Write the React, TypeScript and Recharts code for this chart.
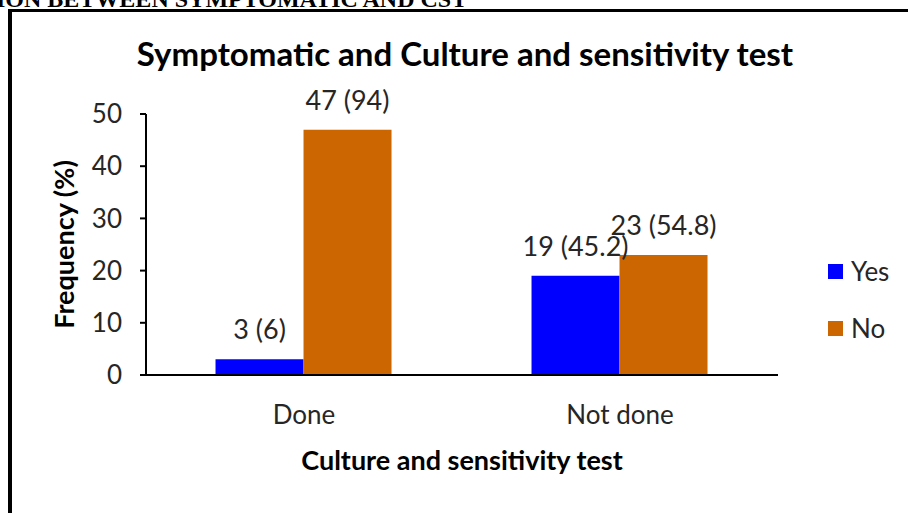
import { BarChart, Bar, XAxis, YAxis, LabelList } from "recharts";

const CATEGORIES = ["Done", "Not done"];
const YES_COUNT = [3, 19];
const YES_PCT = [6, 45.2];
const NO_COUNT = [47, 23];
const NO_PCT = [94, 54.8];
const Y_TICKS = [0, 10, 20, 30, 40, 50];

const BLUE = "#0000FF";
const ORANGE = "#CC6600";
const FONT = "Lato, 'Open Sans', sans-serif";

const data = CATEGORIES.map((c, i) => ({
  name: c,
  yes: YES_COUNT[i],
  no: NO_COUNT[i],
  yesLabel: `${YES_COUNT[i]} (${YES_PCT[i]})`,
  noLabel: `${NO_COUNT[i]} (${NO_PCT[i]})`,
}));

const SERIES = [
  { key: "yes", label: "yesLabel", name: "Yes", color: BLUE },
  { key: "no", label: "noLabel", name: "No", color: ORANGE },
];

export default function App() {
  return (
    <div
      style={{
        position: "absolute",
        left: 0,
        top: 0,
        width: 908,
        height: 513,
        overflow: "hidden",
        background: "#fff",
        fontFamily: FONT,
      }}
    >
      {/* cut-off heading from the page above */}
      <div
        style={{
          position: "absolute",
          left: -4,
          top: -14,
          fontFamily: "'Liberation Serif', serif",
          fontWeight: "bold",
          fontSize: 24,
          lineHeight: "26px",
          whiteSpace: "nowrap",
          color: "#000",
        }}
      >
        ION BETWEEN SYMPTOMATIC AND CST
      </div>
      {/* frame */}
      <div
        style={{
          position: "absolute",
          left: 8,
          top: 9,
          width: 940,
          height: 600,
          borderTop: "3px solid #000",
          borderLeft: "4px solid #000",
        }}
      />
      <div
        style={{
          position: "absolute",
          left: 117,
          top: 33,
          width: 696,
          textAlign: "center",
          fontWeight: "bold",
          fontSize: 33,
          color: "#000",
          whiteSpace: "nowrap",
        }}
      >
        Symptomatic and Culture and sensitivity test
      </div>
      <div style={{ position: "absolute", left: 0, top: 0 }}>
        <BarChart
          width={908}
          height={513}
          data={data}
          margin={{ top: 114, right: 130, bottom: 38, left: 0 }}
          barCategoryGap="22%"
          barGap={0}
        >
          <XAxis
            dataKey="name"
            axisLine={{ stroke: "#000", strokeWidth: 2 }}
            tickLine={false}
            tickSize={0}
            tickMargin={31}
            height={100}
            tick={{ fontSize: 26, fill: "#262626", fontFamily: FONT }}
            label={{
              value: "Culture and sensitivity test",
              position: "insideBottom",
              offset: 5,
              style: { fontSize: 27, fontWeight: "bold", fill: "#000", fontFamily: FONT },
            }}
          />
          <YAxis
            width={146}
            domain={[0, 50]}
            ticks={Y_TICKS}
            interval={0}
            axisLine={{ stroke: "#000", strokeWidth: 2 }}
            tickLine={{ stroke: "#000", strokeWidth: 2 }}
            tickSize={6}
            tickMargin={18}
            tick={{ fontSize: 26, fill: "#262626", fontFamily: FONT }}
            label={{
              value: "Frequency (%)",
              angle: -90,
              position: "insideLeft",
              offset: 0,
              dx: 64,
              style: { fontSize: 27, fontWeight: "bold", fill: "#000", fontFamily: FONT, textAnchor: "middle" },
            }}
          />
          {SERIES.map((s) => (
            <Bar key={s.key} dataKey={s.key} name={s.name} fill={s.color} isAnimationActive={false}>
              <LabelList
                dataKey={s.label}
                position="top"
                offset={20}
                style={{ fontSize: 27, fill: "#262626", fontFamily: FONT }}
              />
            </Bar>
          ))}
        </BarChart>
      </div>
      {/* legend */}
      {SERIES.map((s, i) => (
        <div
          key={s.key}
          style={{
            position: "absolute",
            left: 828,
            top: 255 + i * 57,
            display: "flex",
            alignItems: "center",
            fontSize: 26,
            color: "#262626",
          }}
        >
          <span style={{ width: 15, height: 15, background: s.color, marginRight: 8 }} />
          {s.name}
        </div>
      ))}
    </div>
  );
}
